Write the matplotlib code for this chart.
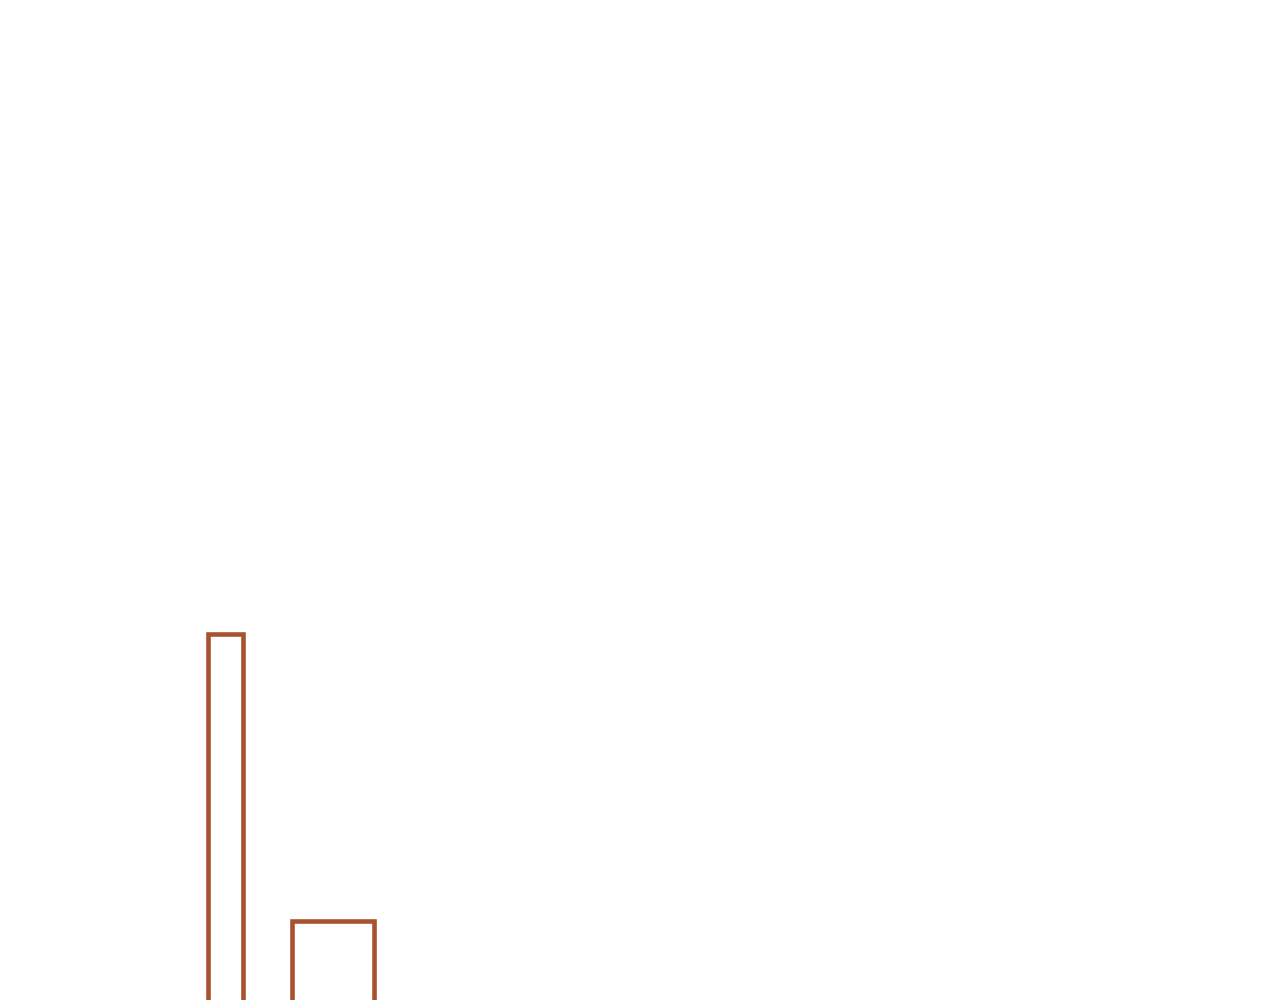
import matplotlib
matplotlib.use("Agg")
import matplotlib.pyplot as plt

# bar data (histogram-like bins with uneven widths)
bin_left = [208, 292]
bin_width = [35, 82]
bin_height = [371, 84]

EDGE_COLOR = "#A9522E"


def plot_bars():
    fig = plt.figure(figsize=(12.8, 10), dpi=100)
    fig.patch.set_facecolor("white")
    ax = fig.add_axes([0, 0, 1, 1])

    ax.bar(bin_left, bin_height, width=bin_width, align="edge",
           facecolor="none", edgecolor=EDGE_COLOR, linewidth=3.3)

    # baseline sits just under the bottom edge, so it is not drawn
    ax.set_xlim(0, 1280)
    ax.set_ylim(5, 1005)
    ax.axis("off")

    fig.savefig("out.png", dpi=100, facecolor="white")


if __name__ == "__main__":
    plot_bars()
